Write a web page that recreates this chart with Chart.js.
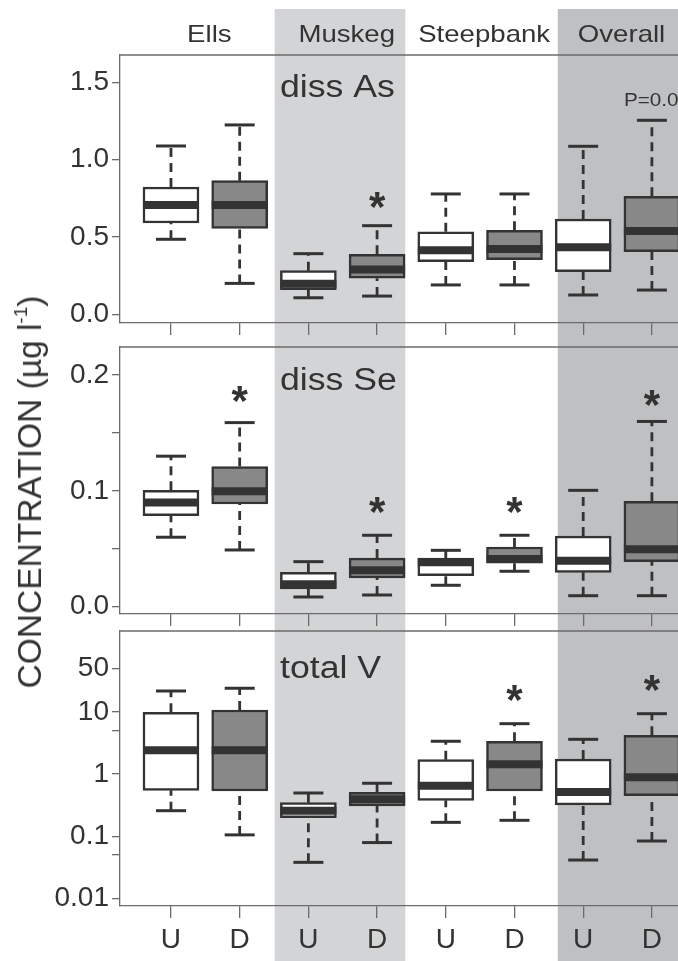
<!DOCTYPE html>
<html>
<head>
<meta charset="utf-8">
<script src="https://cdn.jsdelivr.net/npm/chart.js@4/dist/chart.umd.min.js"></script>
<style>
body { margin:0; background:#fff; width:678px; height:961px; overflow:hidden; position:relative;
       font-family:"Liberation Sans", Arial, Helvetica, sans-serif; }
.pane { position:absolute; left:0; width:678px; }
.pane canvas { display:block; }
#ytitle { position:absolute; left:30px; top:492px; transform:translate(-50%,-50%) rotate(-90deg);
          white-space:nowrap; font-size:33.5px; color:#333; }
#ytitle sup { font-size:19px; vertical-align:14px; line-height:0; }
</style>
</head>
<body>
<div class="pane" style="top:0;height:338px"><canvas id="pAs" width="678" height="338"></canvas></div>
<div class="pane" style="top:338px;height:290px"><canvas id="pSe" width="678" height="290"></canvas></div>
<div class="pane" style="top:628px;height:333px"><canvas id="pV" width="678" height="333"></canvas></div>
<div id="ytitle">CONCENTRATION (&micro;g l<sup>-1</sup>)</div>
<script>
// sites and sample groups (U = upstream, D = downstream)
var sites = ['Ells', 'Muskeg', 'Steepbank', 'Overall'];
var groups = ['U', 'D', 'U', 'D', 'U', 'D', 'U', 'D'];

// dissolved As (µg/l)
var asMin = [0.485, 0.20, 0.107, 0.118, 0.19, 0.19, 0.125, 0.157];
var asQ1  = [0.59, 0.556, 0.16, 0.233, 0.34, 0.353, 0.275, 0.405];
var asMed = [0.707, 0.707, 0.198, 0.29, 0.414, 0.422, 0.433, 0.538];
var asQ3  = [0.823, 0.864, 0.282, 0.388, 0.534, 0.543, 0.616, 0.763];
var asMax = [1.088, 1.224, 0.392, 0.573, 0.778, 0.778, 1.086, 1.254];
var asStar = [null, null, null, 0.758, null, null, null, null];
var asTicks = [0, 0.5, 1.0, 1.5];
var asTickLabels = ['0.0', '0.5', '1.0', '1.5'];

// dissolved Se (µg/l)
var seMin = [0.06, 0.049, 0.0084, 0.0101, 0.0185, 0.0306, 0.0095, 0.0095];
var seQ1  = [0.0786, 0.0887, 0.0153, 0.0248, 0.0268, 0.0375, 0.0297, 0.0389];
var seMed = [0.090, 0.0997, 0.0193, 0.0314, 0.0385, 0.0412, 0.0397, 0.0496];
var seQ3  = [0.1005, 0.121, 0.0297, 0.042, 0.042, 0.0516, 0.061, 0.091];
var seMax = [0.130, 0.159, 0.0389, 0.0617, 0.0487, 0.0617, 0.1005, 0.160];
var seStar = [null, 0.1865, null, 0.0907, null, 0.0907, null, 0.1828];
var seTicks = [0, 0.05, 0.1, 0.15, 0.2];
var seTickLabels = ['0.0', '', '0.1', '', '0.2'];

// total V (µg/l, log axis)
var vMin = [0.257, 0.105, 0.038, 0.079, 0.167, 0.18, 0.0414, 0.0837];
var vQ1  = [0.547, 0.533, 0.199, 0.306, 0.377, 0.533, 0.318, 0.448];
var vMed = [2.4, 2.4, 0.257, 0.392, 0.65, 1.43, 0.514, 0.885];
var vQ3  = [9.8, 10.7, 0.346, 0.508, 1.70, 3.36, 1.74, 4.19];
var vMax = [21.6, 23.9, 0.495, 0.71, 3.36, 6.44, 3.61, 9.32];
var vStar = [null, null, null, null, null, 22.4, null, 32.5];
var vTicks = [0.01, 0.05, 0.1, 1, 5, 10, 50];
var vTickLabels = ['0.01', '', '0.1', '1', '', '10', '50'];

var FONT = '"Liberation Sans", Arial, Helvetica, sans-serif';
var INK = '#333333';
var AXIS = '#6b6b6b';
var boxFill = groups.map(function(g) { return g === 'U' ? '#ffffff' : '#888889'; });

Chart.defaults.font.family = FONT;
Chart.defaults.color = INK;

function stretchText(ctx, txt, x, y, sx, align) {
    ctx.save();
    ctx.translate(x, y);
    ctx.scale(sx, 1);
    ctx.textAlign = align;
    ctx.fillText(txt, 0, 0);
    ctx.restore();
}

// background bands, top frame line and the text annotations
var decor = {
    id: 'decor',
    beforeDraw: function(chart, args, o) {
        var ctx = chart.ctx, x = chart.scales.x;
        ctx.save();
        [[1.51, 3.41, '#d3d4d6'], [5.63, 9, '#bfc0c2']].forEach(function(b) {
            var x0 = x.getPixelForValue(b[0]);
            var x1 = Math.min(chart.width, x.getPixelForValue(b[1]));
            ctx.fillStyle = b[2];
            ctx.fillRect(x0, o.bandTop, x1 - x0, chart.height - o.bandTop);
        });
        ctx.restore();
    },
    afterDraw: function(chart, args, o) {
        var ctx = chart.ctx, x = chart.scales.x, y = chart.scales.y, a = chart.chartArea;
        ctx.save();
        ctx.strokeStyle = AXIS;
        ctx.lineWidth = 1.3;
        ctx.beginPath();
        ctx.moveTo(a.left, a.top);
        ctx.lineTo(chart.width, a.top);
        ctx.stroke();

        ctx.fillStyle = INK;
        ctx.textBaseline = 'alphabetic';
        ctx.font = '31px ' + FONT;
        stretchText(ctx, o.title, 280, o.titleY, 1.15, 'left');

        ctx.font = 'bold 42px ' + FONT;
        o.stars.forEach(function(v, i) {
            if (v === null) return;
            ctx.textAlign = 'center';
            ctx.fillText('*', x.getPixelForValue(i), y.getPixelForValue(v) + 0.57 * 42);
        });

        if (o.headers) {
            ctx.font = '24px ' + FONT;
            sites.forEach(function(s, k) {
                stretchText(ctx, s, x.getPixelForValue(2 * k + 0.5) + 4, 42, 1.15, 'center');
            });
        }
        if (o.note) {
            ctx.font = '18px ' + FONT;
            ctx.textBaseline = 'middle';
            stretchText(ctx, o.note.text, x.getPixelForValue(o.note.at) - 28, y.getPixelForValue(o.note.y), 1.15, 'left');
        }
        ctx.restore();
    }
};

function makePanel(id, p) {
    var boxes = [], caps = [], meds = [], whisk = [];
    for (var i = 0; i < groups.length; i++) {
        boxes.push({x: i, y: [p.q1[i], p.q3[i]]});
        caps.push({x: i, y: p.max[i]}, {x: i, y: p.min[i]});
        meds.push({x: i, y: p.med[i]});
        whisk.push({x: i, y: p.q3[i]}, {x: i, y: p.max[i]}, {x: i, y: null},
                   {x: i, y: p.min[i]}, {x: i, y: p.q1[i]}, {x: i, y: null});
    }
    return new Chart(document.getElementById(id), {
        type: 'scatter',
        data: {
            datasets: [
                { type: 'scatter', data: meds, showLine: false, pointStyle: 'line', pointRadius: 28,
                  pointBorderWidth: 8, pointBorderColor: INK, order: 0 },
                { type: 'scatter', data: caps, showLine: false, pointStyle: 'line', pointRadius: 15,
                  pointBorderWidth: 3, pointBorderColor: INK, order: 1 },
                { type: 'bar', data: boxes, backgroundColor: boxFill, borderColor: INK, borderWidth: 2.5,
                  borderSkipped: false, barThickness: 56, order: 2 },
                { type: 'line', data: whisk, borderColor: INK, borderWidth: 2.8, borderDash: [9, 6],
                  pointRadius: 0, spanGaps: false, fill: false, order: 3 }
            ]
        },
        options: {
            responsive: false,
            animation: false,
            events: [],
            layout: { autoPadding: false, padding: { top: p.padTop, left: 0, right: 0, bottom: 0 } },
            plugins: {
                legend: { display: false },
                tooltip: { enabled: false },
                decor: { bandTop: p.bandTop, title: p.title, titleY: p.titleY, stars: p.stars,
                         headers: p.headers, note: p.note }
            },
            scales: {
                x: {
                    type: 'linear', min: -0.742, max: 7.38, offset: false,
                    afterBuildTicks: function(s) { s.ticks = groups.map(function(g, i) { return {value: i}; }); },
                    afterFit: function(s) { s.height = p.xh; s.paddingLeft = 0; s.paddingRight = 0; },
                    ticks: { autoSkip: false, maxRotation: 0, padding: 5, color: INK, font: { size: 28 },
                             callback: function(v, i) { return p.xLabels ? groups[i] : ''; } },
                    grid: { drawOnChartArea: false, offset: false, tickLength: 12, color: AXIS, lineWidth: 1.3 },
                    border: { display: true, color: AXIS, width: 1.3 }
                },
                y: {
                    type: p.log ? 'logarithmic' : 'linear', min: p.ymin, max: p.ymax,
                    afterBuildTicks: function(s) { s.ticks = p.ticks.map(function(v) { return {value: v}; }); },
                    afterFit: function(s) { s.width = 120; s.paddingTop = 0; s.paddingBottom = 0; },
                    ticks: { padding: 3, color: INK, font: { size: 28 },
                             callback: function(v, i) { return p.tickLabels[i]; } },
                    grid: { drawOnChartArea: false, tickLength: 8, color: AXIS, lineWidth: 1.3 },
                    border: { display: true, color: AXIS, width: 1.3 }
                }
            }
        },
        plugins: [decor]
    });
}

makePanel('pAs', { min: asMin, q1: asQ1, med: asMed, q3: asQ3, max: asMax, stars: asStar,
    ticks: asTicks, tickLabels: asTickLabels, ymin: -0.056, ymax: 1.676,
    padTop: 55, xh: 15, bandTop: 9, title: 'diss As', titleY: 97, headers: true,
    note: { text: 'P=0.06', at: 7, y: 1.379 } });

makePanel('pSe', { min: seMin, q1: seQ1, med: seMed, q3: seQ3, max: seMax, stars: seStar,
    ticks: seTicks, tickLabels: seTickLabels, ymin: -0.0063, ymax: 0.2243,
    padTop: 9, xh: 14, bandTop: 0, title: 'diss Se', titleY: 52 });

makePanel('pV', { min: vMin, q1: vQ1, med: vMed, q3: vQ3, max: vMax, stars: vStar, log: true,
    ticks: vTicks, tickLabels: vTickLabels, ymin: 0.00755, ymax: 199,
    padTop: 3, xh: 55, bandTop: 0, title: 'total V', titleY: 50, xLabels: true });
</script>
</body>
</html>
